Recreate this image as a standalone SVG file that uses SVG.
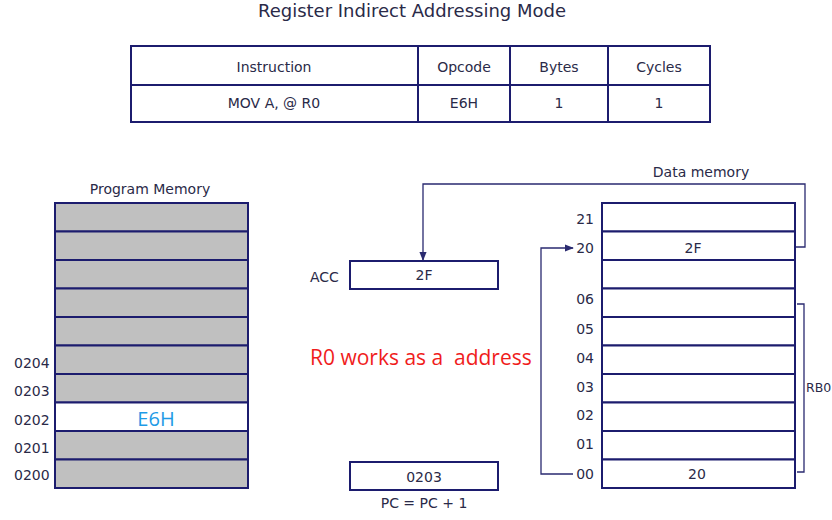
<svg xmlns="http://www.w3.org/2000/svg" width="832" height="520" viewBox="0 0 832 520">
<defs>
<style>
.t{font-family:"DejaVu Sans",Verdana,sans-serif;fill:#2a2a48;font-size:14px}
.c{text-anchor:middle}
.r{text-anchor:end}
.box{fill:#fff;stroke:#1c1c6e;stroke-width:2}
.gray{fill:#c0c0c0;stroke:#1c1c6e;stroke-width:2}
.ln{fill:none;stroke:#2a2a70;stroke-width:1.3}
.red{font-family:'Open Sans','Noto Sans',sans-serif;font-size:21px;fill:#f01c1c}
</style>
<marker id="ah" viewBox="0 0 10 10" refX="9" refY="5" markerWidth="7" markerHeight="7" orient="auto"><path d="M0,1 L10,5 L0,9 z" fill="#2a2a70"/></marker>
</defs>
<rect width="832" height="520" fill="#fff"/>
<text x="412" y="17" class="t c" style="font-size:18px">Register Indirect Addressing Mode</text>

<g id="table">
<rect x="131" y="46" width="579" height="76" class="box"/>
<line x1="131" y1="85" x2="710" y2="85" stroke="#1c1c6e" stroke-width="2"/>
<line x1="418" y1="46" x2="418" y2="122" stroke="#1c1c6e" stroke-width="2"/>
<line x1="510" y1="46" x2="510" y2="122" stroke="#1c1c6e" stroke-width="2"/>
<line x1="608" y1="46" x2="608" y2="122" stroke="#1c1c6e" stroke-width="2"/>
<text x="274" y="72" class="t c">Instruction</text>
<text x="464" y="72" class="t c">Opcode</text>
<text x="559" y="72" class="t c">Bytes</text>
<text x="659" y="72" class="t c">Cycles</text>
<text x="274" y="108" class="t c">MOV A, @ R0</text>
<text x="464" y="108" class="t c">E6H</text>
<text x="559" y="108" class="t c">1</text>
<text x="659" y="108" class="t c">1</text>
</g>

<g id="program-memory">
<text x="150" y="194" class="t c">Program Memory</text>
<rect x="55" y="203" width="193" height="28.5" class="gray"/>
<rect x="55" y="231.5" width="193" height="28.5" class="gray"/>
<rect x="55" y="260" width="193" height="28.5" class="gray"/>
<rect x="55" y="288.5" width="193" height="28.5" class="gray"/>
<rect x="55" y="317" width="193" height="28.5" class="gray"/>
<rect x="55" y="345.5" width="193" height="28.5" class="gray"/>
<rect x="55" y="374" width="193" height="28.5" class="gray"/>
<rect x="55" y="402.5" width="193" height="28.5" class="box"/>
<rect x="55" y="431" width="193" height="28.5" class="gray"/>
<rect x="55" y="459.5" width="193" height="28.5" class="gray"/>
<text x="14" y="368" class="t">0204</text>
<text x="14" y="396" class="t">0203</text>
<text x="14" y="425" class="t">0202</text>
<text x="14" y="453" class="t">0201</text>
<text x="14" y="480" class="t">0200</text>
<text x="156" y="426" text-anchor="middle" style="font-family:'Open Sans','Noto Sans',sans-serif;font-size:20px;fill:#1e9be6">E6H</text>
</g>

<g id="acc">
<text x="310" y="282" class="t">ACC</text>
<rect x="350" y="261" width="148" height="28" class="box"/>
<text x="424" y="280" class="t c">2F</text>
</g>

<text x="310" y="365" class="red">R0 works as a</text>
<text x="454" y="365" class="red">address</text>

<g id="pc">
<rect x="350" y="462" width="148" height="28" class="box"/>
<text x="424" y="482" class="t c">0203</text>
<text x="424" y="508" class="t c">PC = PC + 1</text>
</g>

<g id="data-memory">
<text x="701" y="177" class="t c">Data memory</text>
<rect x="602" y="203" width="193" height="28.5" class="box"/>
<rect x="602" y="231.5" width="193" height="28.5" class="box"/>
<rect x="602" y="260" width="193" height="28.5" class="box"/>
<rect x="602" y="288.5" width="193" height="28.5" class="box"/>
<rect x="602" y="317" width="193" height="28.5" class="box"/>
<rect x="602" y="345.5" width="193" height="28.5" class="box"/>
<rect x="602" y="374" width="193" height="28.5" class="box"/>
<rect x="602" y="402.5" width="193" height="28.5" class="box"/>
<rect x="602" y="431" width="193" height="28.5" class="box"/>
<rect x="602" y="459.5" width="193" height="28.5" class="box"/>
<text x="594" y="224" class="t r">21</text>
<text x="594" y="253" class="t r">20</text>
<text x="594" y="304" class="t r">06</text>
<text x="594" y="334" class="t r">05</text>
<text x="594" y="363" class="t r">04</text>
<text x="594" y="392" class="t r">03</text>
<text x="594" y="420" class="t r">02</text>
<text x="594" y="449" class="t r">01</text>
<text x="594" y="479" class="t r">00</text>
<text x="693" y="253" class="t c">2F</text>
<text x="697" y="479" class="t c">20</text>
</g>

<g id="rb0">
<path d="M797,304 H804 V472 H797" class="ln"/>
<text x="806" y="392" class="t" style="font-size:12.5px">RB0</text>
</g>

<g id="connectors">
<path d="M796,247 H805 V184 H423 V260" class="ln" marker-end="url(#ah)"/>
<path d="M573,474 H541 V248 H573" class="ln" marker-end="url(#ah)"/>
</g>
</svg>
